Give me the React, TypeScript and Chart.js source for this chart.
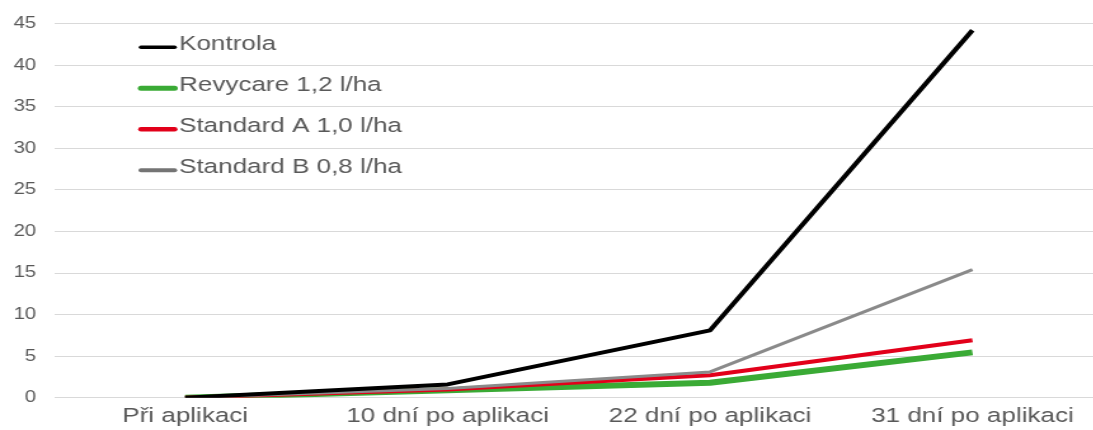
import React, { useEffect, useRef } from "react";
import { Chart, registerables } from "chart.js";

Chart.register(...registerables);

// ---- data ----
const categories = ["Při aplikaci", "10 dní po aplikaci", "22 dní po aplikaci", "31 dní po aplikaci"];
const seriesNames = ["Kontrola", "Revycare 1,2 l/ha", "Standard A 1,0 l/ha", "Standard B 0,8 l/ha"];
const kontrola = [0, 1.6, 8.1, 44.2];
const revycare = [0, 0.9, 1.8, 5.45];
const standardA = [0, 1.0, 2.7, 6.9];
const standardB = [0, 1.1, 3.1, 15.4];
const yMin = 0;
const yMax = 45;
const yStep = 5;

// ---- style ----
const SX = 1.27; // horizontal stretch of the reference picture
const CANVAS_W = 875;
const CANVAS_H = 430;
const FONT = "'Liberation Sans', Arial, sans-serif";
const TEXT = "#595959";

const colors = ["#000000", "#3aaa35", "#e2001a", "#8a8a8a"];
const legendColors = ["#000000", "#3aaa35", "#e2001a", "#747474"];
const widths = [4, 6, 4, 3];
const legendWidths = [3.5, 5, 4.5, 4];
const orders = [0, 3, 2, 1];

const legendPlugin = {
  id: "insideLegend",
  afterDraw(chart: any) {
    const ctx = chart.ctx;
    const ds = chart.data.datasets;
    ctx.save();
    ctx.font = `20.5px ${FONT}`;
    ctx.textBaseline = "middle";
    ctx.textAlign = "left";
    for (let i = 0; i < ds.length; i++) {
      const cy = 44.8 + i * 41;
      const ly = cy + 2.5;
      ctx.strokeStyle = legendColors[i];
      ctx.lineWidth = legendWidths[i];
      ctx.lineCap = "round";
      ctx.beginPath();
      ctx.moveTo(111, ly);
      ctx.lineTo(137.5, ly);
      ctx.stroke();
      ctx.fillStyle = TEXT;
      ctx.fillText(ds[i].label, 141, cy);
    }
    ctx.restore();
  },
};

export default function App() {
  const ref = useRef<HTMLCanvasElement | null>(null);

  useEffect(() => {
    if (!ref.current) return;
    const values = [kontrola, revycare, standardA, standardB];
    const chart = new Chart(ref.current, {
      type: "line",
      data: {
        labels: categories,
        datasets: values.map((v, i) => ({
          label: seriesNames[i],
          data: v,
          borderColor: colors[i],
          backgroundColor: colors[i],
          borderWidth: widths[i],
          pointRadius: 0,
          pointHoverRadius: 0,
          tension: 0,
          fill: false,
          order: orders[i],
          borderJoinStyle: "round" as const,
        })),
      },
      options: {
        responsive: false,
        animation: false,
        devicePixelRatio: 1,
        layout: { padding: { top: 22.6, right: CANVAS_W - 869, bottom: 0, left: 0 } },
        plugins: {
          legend: { display: false },
          tooltip: { enabled: false },
          title: { display: false },
        },
        scales: {
          x: {
            type: "category",
            offset: true,
            grid: { display: false, drawTicks: false },
            border: { display: false },
            ticks: {
              color: TEXT,
              font: { family: FONT, size: 20.5 },
              padding: 6,
              maxRotation: 0,
              minRotation: 0,
              autoSkip: false,
            },
            afterFit(scale: any) {
              scale.height = 430 - 397.7;
            },
          },
          y: {
            min: yMin,
            max: yMax,
            grid: { color: "#d9d9d9", lineWidth: 1, drawTicks: false },
            border: { display: false },
            ticks: {
              stepSize: yStep,
              color: TEXT,
              font: { family: FONT, size: 16 },
              padding: 14,
            },
            afterFit(scale: any) {
              scale.width = 42.5;
            },
          },
        },
      },
      plugins: [legendPlugin],
    });
    return () => chart.destroy();
  }, []);

  return (
    <div
      style={{
        position: "fixed",
        left: 0,
        top: 0,
        width: 1093,
        height: 430,
        overflow: "hidden",
        background: "#ffffff",
      }}
    >
      <canvas
        ref={ref}
        width={CANVAS_W}
        height={CANVAS_H}
        style={{ transform: `scaleX(${SX})`, transformOrigin: "0 0" }}
      />
    </div>
  );
}
